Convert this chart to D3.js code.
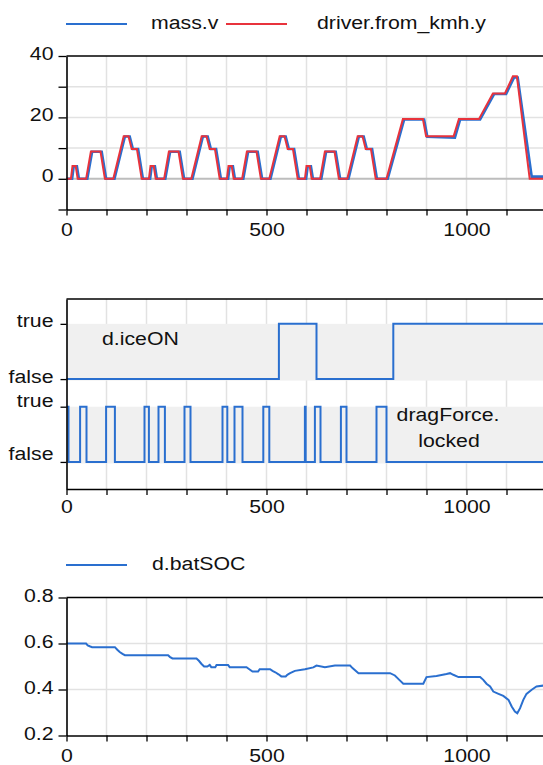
<!DOCTYPE html>
<html><head><meta charset="utf-8">
<script src="https://cdn.jsdelivr.net/npm/d3@7"></script>
<style>
body{margin:0;background:#fff}
svg{display:block}
text{font-family:"Liberation Sans",Arial,sans-serif;fill:#111}
</style>
</head><body>
<svg id="c" width="543" height="765"></svg>
<script>
// ---------------- data ----------------
const xLabelTicks = [0, 500, 1000];
const speedLabelTicks = [40, 20, 0];
const speedMinorTicks = [-10, 0, 10, 20, 30, 40];
const socLabelTicks = [0.8, 0.6, 0.4, 0.2];
const boolLevels = [0, 1, 1.5, 2.5];
const boolLabels = ["false", "true", "false", "true"];

// driver.from_kmh.y  (m/s)
const refTime = [0,11,15,23,28,49,61,85,96,117,143,155,163,176,188,
  206,210,218,223,244,256,280,291,312,338,350,358,371,383,
  401,405,413,418,439,451,475,486,507,533,545,553,566,578,
  596,600,608,613,634,646,670,681,702,728,740,748,761,773,
  800,841,891,899,968,981,1031,1066,1096,1116,1126,1158,1192];
const refSpeed = [0,0,4.17,4.17,0,0,8.89,8.89,0,0,13.89,13.89,9.72,9.72,0,
  0,4.17,4.17,0,0,8.89,8.89,0,0,13.89,13.89,9.72,9.72,0,
  0,4.17,4.17,0,0,8.89,8.89,0,0,13.89,13.89,9.72,9.72,0,
  0,4.17,4.17,0,0,8.89,8.89,0,0,13.89,13.89,9.72,9.72,0,
  0,19.44,19.44,13.89,13.89,19.44,19.44,27.78,27.78,33.4,33.4,0,0];

// mass.v (m/s)
const massTime = [0,14,18,26,31,52,64,88,99,120,146,158,166,179,191,
  209,213,221,226,247,259,283,294,315,341,353,361,374,386,
  404,408,416,421,442,454,478,489,510,536,548,556,569,581,
  599,603,611,616,637,649,673,684,705,731,743,751,764,776,
  803,844,894,902,971,984,1034,1069,1099,1119,1128,1163,1192];
const massSpeed = [0,0,4.1,4.1,0,0,8.8,8.8,0,0,13.8,13.8,9.7,9.7,0,
  0,4.1,4.1,0,0,8.8,8.8,0,0,13.8,13.8,9.7,9.7,0,
  0,4.1,4.1,0,0,8.8,8.8,0,0,13.8,13.8,9.7,9.7,0,
  0,4.1,4.1,0,0,8.8,8.8,0,0,13.8,13.8,9.7,9.7,0,
  0,19.3,19.3,13.7,13.4,19.3,19.3,27.6,27.6,33.0,33.0,0.7,0.7];

// d.iceON (0 = false, 1 = true)
const iceTime = [0, 531, 625, 817, 1192];
const iceOn   = [0, 1, 0, 1, 1];

// dragForce.locked
const dragTime = [0,5,34,50,99,121,195,206,230,246,295,310,390,402,420,440,492,507,596,598,621,635,686,700,775,800,1192];
const dragLocked = [1,0,1,0,1,0,1,0,1,0,1,0,1,0,1,0,1,0,1,0,1,0,1,0,1,0,0];

// d.batSOC
const socTime = [0,49,53,58,64,121,127,133,140,146,254,259,265,325,331,337,344,352,358,362,372,375,404,408,450,457,465,479,483,509,515,522,530,537,548,552,559,571,596,617,625,646,671,709,715,730,809,821,832,842,892,900,925,950,959,967,980,1034,1042,1050,1059,1067,1080,1092,1105,1113,1121,1127,1134,1142,1150,1163,1175,1192];
const socVal = [0.600,0.600,0.592,0.588,0.584,0.584,0.573,0.563,0.555,0.549,0.549,0.541,0.535,0.535,0.525,0.512,0.500,0.500,0.507,0.497,0.497,0.506,0.506,0.497,0.497,0.488,0.478,0.478,0.488,0.488,0.481,0.475,0.466,0.457,0.457,0.464,0.471,0.481,0.488,0.496,0.504,0.497,0.504,0.504,0.493,0.471,0.471,0.461,0.442,0.425,0.425,0.454,0.459,0.467,0.471,0.464,0.454,0.454,0.442,0.425,0.413,0.391,0.381,0.372,0.355,0.326,0.304,0.297,0.319,0.355,0.381,0.399,0.413,0.417];

// ---------------- drawing ----------------
const FS = 19, SX = 1.12;
const BLUE = "#2a6fcf", RED = "#e8333c", GRID = "#e2e2e2";
const svg = d3.select("#c");
const x = d3.scaleLinear().domain([0, 1192]).range([66.5, 543.3]);
const gridX = x.ticks(12).filter(d => d > 0);

function label(px, py, str, anchor) {
  svg.append("text").attr("transform", `translate(${px},${py}) scale(${SX},1)`)
    .attr("text-anchor", anchor || "start").style("font-size", FS + "px").text(str);
}
function styleAxis(g) {
  g.select(".domain").attr("stroke", "#000").attr("stroke-width", 1.6);
  g.selectAll(".tick line").attr("stroke", "#000").attr("stroke-width", 1.3);
  g.selectAll("text").style("font-size", FS + "px").attr("fill", "#111")
    .style("font-family", '"Liberation Sans",Arial,sans-serif');
}
function bottomAxis(yPix, top) {
  svg.append("g").selectAll("line").data(gridX).join("line")
    .attr("x1", d => x(d)).attr("x2", d => x(d)).attr("y1", top).attr("y2", yPix)
    .attr("stroke", GRID).attr("stroke-width", 1.5);
}
function drawBottomAxis(yPix, top, lblOff) {
  const g = svg.append("g").attr("transform", `translate(0,${yPix})`)
    .call(d3.axisBottom(x).tickValues(x.ticks(12)).tickSize(6).tickSizeOuter(0)
      .tickFormat(d => xLabelTicks.includes(d) ? d : ""));
  styleAxis(g);
  g.selectAll("text").attr("y", lblOff).attr("dy", 0).attr("transform", `scale(${SX},1)`);
  svg.append("line").attr("x1", x(0)).attr("x2", 543).attr("y1", top).attr("y2", top)
    .attr("stroke", "#000").attr("stroke-width", 1.6);
}
function drawLeftAxis(y, ticks, fmt, size, dyFn) {
  const g = svg.append("g").attr("transform", `translate(${x(0)},0)`)
    .call(d3.axisLeft(y).tickValues(ticks).tickSize(size).tickSizeOuter(0).tickFormat(fmt));
  styleAxis(g);
  g.selectAll("text").attr("x", -13 / SX).attr("dy", (d, i) => dyFn(d, i))
    .attr("transform", `scale(${SX},1)`);
}

// ---------- Panel 1: speeds ----------
const y1 = d3.scaleLinear().domain([-10, 40]).range([209.5, 56]);
bottomAxis(209.5, 56);
svg.append("g").selectAll("line").data([10, 20, 30]).join("line")
  .attr("x1", x(0)).attr("x2", 543).attr("y1", d => y1(d)).attr("y2", d => y1(d))
  .attr("stroke", GRID).attr("stroke-width", 1.5);
svg.append("line").attr("x1", x(0)).attr("x2", 543).attr("y1", y1(0)).attr("y2", y1(0))
  .attr("stroke", "#bdbdbd").attr("stroke-width", 2);
const line1 = d3.line().x(d => x(d[0])).y(d => y1(d[1]));
svg.append("path").datum(massTime.map((t, i) => [t, massSpeed[i]]))
  .attr("d", line1).attr("fill", "none").attr("stroke", BLUE).attr("stroke-width", 2.6);
svg.append("path").datum(refTime.map((t, i) => [t, refSpeed[i]]))
  .attr("d", line1).attr("fill", "none").attr("stroke", RED).attr("stroke-width", 2);
drawBottomAxis(209.5, 56, 27);
drawLeftAxis(y1, speedMinorTicks, d => speedLabelTicks.includes(d) ? d : "", 8, () => "3px");
svg.append("line").attr("x1", 66).attr("x2", 127).attr("y1", 24).attr("y2", 24).attr("stroke", BLUE).attr("stroke-width", 2);
label(151, 29, "mass.v");
svg.append("line").attr("x1", 226).attr("x2", 287).attr("y1", 24).attr("y2", 24).attr("stroke", RED).attr("stroke-width", 2);
label(317, 29, "driver.from_kmh.y");

// ---------- Panel 2: booleans ----------
const yB = d3.scaleLinear().domain([-0.49, 2.95]).range([489, 299]);
bottomAxis(489, 299);
svg.append("g").selectAll("rect").data([1.5, 0]).join("rect")
  .attr("x", x(0)).attr("width", 543 - x(0))
  .attr("y", d => yB(d + 1)).attr("height", d => yB(d) - yB(d + 1) + 1.5)
  .attr("fill", "#f0f0f0");
const stepLine = (base) => d3.line().curve(d3.curveStepAfter).x(d => x(d[0])).y(d => yB(base + d[1]));
svg.append("path").datum(iceTime.map((t, i) => [t, iceOn[i]]))
  .attr("d", stepLine(1.5)).attr("fill", "none").attr("stroke", BLUE).attr("stroke-width", 2);
svg.append("path").datum(dragTime.map((t, i) => [t, dragLocked[i]]))
  .attr("d", stepLine(0)).attr("fill", "none").attr("stroke", BLUE).attr("stroke-width", 2);
drawBottomAxis(489, 299, 24);
drawLeftAxis(yB, boolLevels, (d) => boolLabels[boolLevels.indexOf(d)], 6,
  (d) => d === 0 ? "-2px" : (d === 1 ? "0px" : "3px"));
label(102, 345, "d.iceON");
label(448, 421, "dragForce.", "middle");
label(449, 447, "locked", "middle");

// ---------- Panel 3: SOC ----------
const y3 = d3.scaleLinear().domain([0.2, 0.8]).range([735.5, 597.5]);
bottomAxis(735.5, 597.5);
svg.append("g").selectAll("line").data([0.4, 0.6]).join("line")
  .attr("x1", x(0)).attr("x2", 543).attr("y1", d => y3(d)).attr("y2", d => y3(d))
  .attr("stroke", GRID).attr("stroke-width", 1.5);
svg.append("path").datum(socTime.map((t, i) => [t, socVal[i]]))
  .attr("d", d3.line().x(d => x(d[0])).y(d => y3(d[1])))
  .attr("fill", "none").attr("stroke", BLUE).attr("stroke-width", 2);
drawBottomAxis(735.5, 597.5, 26.5);
drawLeftAxis(y3, socLabelTicks, d3.format(".1f"), 8, () => "4px");
svg.append("line").attr("x1", 66).attr("x2", 127).attr("y1", 565).attr("y2", 565).attr("stroke", BLUE).attr("stroke-width", 2);
label(152, 570, "d.batSOC");
</script>
</body></html>
